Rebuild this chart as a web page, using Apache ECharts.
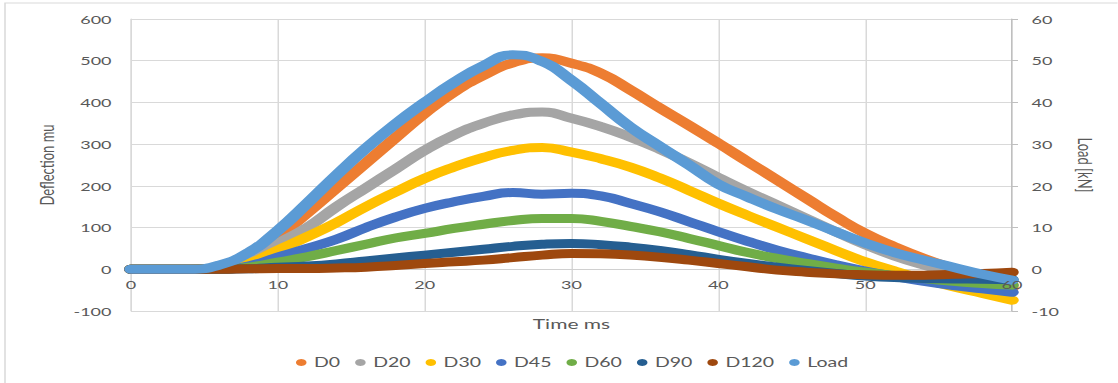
<!DOCTYPE html>
<html>
<head>
<meta charset="utf-8">
<script src="https://cdn.jsdelivr.net/npm/echarts@6.0.0/dist/echarts.min.js"></script>
<style>
html,body{margin:0;padding:0;background:#fff;overflow:hidden;width:1118px;height:383px;}
#wrap{position:absolute;left:0;top:0;height:383px;transform-origin:0 0;}
</style>
</head>
<body>
<div id="wrap"></div>
<script>
// ---- data (time in ms, deflection in mu, load in kN) ----
const times = [0,2,4,6,8,10,12,14,16,18,20,22,24,26,28,30,32,34,36,38,40,42,44,46,48,50,52,54,56,58,60];
const d0   = [0,0,0,3,25,77,135,195,255,315,374,425,465,495,507,494,470,430,387,345,302,258,214,170,126,86,54,26,2,-22,-45];
const d20  = [0,0,0,2,20,62,100,150,195,240,285,322,350,370,377,362,342,317,288,255,220,186,154,122,90,59,32,10,-8,-24,-38];
const d30  = [0,0,0,1,14,46,78,112,150,185,218,245,268,285,292,281,265,245,219,189,158,129,101,73,45,18,-4,-24,-42,-58,-74];
const d45  = [0,0,0,0,8,29,50,72,100,125,146,162,175,184,180,182,176,158,138,114,90,67,46,28,11,-4,-17,-29,-39,-47,-55];
const d60  = [0,0,0,0,5,17,30,45,60,75,86,98,108,117,122,122,115,103,90,74,57,40,26,14,3,-7,-15,-22,-29,-34,-38];
const d90  = [0,0,0,0,1,5,8,13,20,27,34,41,48,55,60,62,59,53,45,35,24,14,5,-3,-10,-16,-20,-22,-23,-24,-25];
const d120 = [0,0,0,0,1,2,2,3,5,9,14,18,22,28,34,38,37,34,29,22,14,6,-2,-7,-11,-13,-14,-14,-12,-10,-7];
const load = [0,0,0,1.0,4.0,9.3,15.8,22.6,29.0,34.8,40.0,44.8,48.8,51.4,49.8,45.3,39.7,34.1,29.5,25,20.4,17.3,14.4,11.8,9,6.3,4,2.2,0.5,-1.2,-2.6];

const seriesNames = ['D0','D20','D30','D45','D60','D90','D120','Load'];
const seriesData  = [d0,d20,d30,d45,d60,d90,d120,load];
const seriesColors = ['#ED7D31','#A5A5A5','#FFC000','#4472C4','#70AD47','#255E91','#9E480E','#5B9BD5'];
const seriesAxis  = [0,0,0,0,0,0,0,1];

// ---- layout: reference is horizontally stretched ----
const S = 1.5;
const W = 1118 / S;
const el = document.getElementById('wrap');
el.style.width = W + 'px';
el.style.transform = 'scaleX(' + S + ')';

const chart = echarts.init(el, null, {renderer: 'svg', width: W, height: 383});
const txt = '#595959';
const font = 'Lato';
const gridTop = 19, gridBottom = 72;
const plotH = 383 - gridTop - gridBottom;
const zeroOffset = -plotH * (0 - (-100)) / (600 - (-100)); // move x axis up to the zero line

const series = seriesNames.map((n, k) => ({
  name: n,
  type: 'line',
  xAxisIndex: 0,
  yAxisIndex: seriesAxis[k],
  data: times.map((t, i) => [t, seriesData[k][i]]),
  smooth: 0.5,
  symbol: 'none',
  showSymbol: false,
  itemStyle: {color: seriesColors[k]},
  lineStyle: {width: 9, color: seriesColors[k], cap: 'round', join: 'round'},
  emphasis: {disabled: true},
  z: 2
}));

chart.setOption({
  animation: false,
  backgroundColor: '#fff',
  textStyle: {fontFamily: font},
  grid: {left: 131 / S, right: (1118 - 1012) / S, top: gridTop, bottom: gridBottom, outerBoundsMode: 'none', containLabel: false},
  graphic: [{
    type: 'rect', silent: true, z: -10,
    shape: {x: 5 / S, y: 3, width: 900, height: 500},
    style: {fill: 'none', stroke: '#d9d9d9', lineWidth: 1}
  }],
  legend: {
    data: seriesNames,
    left: 296 / S,
    top: 356,
    icon: 'circle',
    itemWidth: 7,
    itemHeight: 7,
    itemGap: 10,
    padding: 0,
    textStyle: {color: txt, fontSize: 13, fontFamily: font}
  },
  xAxis: [{
    type: 'value', min: 0, max: 60, interval: 10, position: 'bottom', offset: zeroOffset,
    name: 'Time ms', nameLocation: 'middle', nameGap: 47,
    nameTextStyle: {color: txt, fontSize: 14, fontFamily: font},
    axisLine: {show: true, onZero: false, lineStyle: {color: '#d0d0d0', width: 1}},
    axisTick: {show: false},
    axisLabel: {show: false},
    splitLine: {show: true, lineStyle: {color: '#d9d9d9', width: 1}},
    z: 0
  }, {
    type: 'value', min: 0, max: 60, interval: 10, position: 'bottom', offset: zeroOffset,
    axisLine: {show: false, onZero: false},
    axisTick: {show: false},
    axisLabel: {show: true, color: txt, fontSize: 12, fontFamily: font, margin: 9},
    splitLine: {show: false},
    z: 5
  }],
  yAxis: [{
    type: 'value', min: -100, max: 600, interval: 100, position: 'left',
    name: 'Deflection mu', nameLocation: 'middle', nameRotate: 90, nameGap: 45,
    nameTextStyle: {color: txt, fontSize: 13, fontFamily: font},
    axisLine: {show: true, onZero: false, lineStyle: {color: '#d9d9d9'}},
    axisTick: {show: false},
    axisLabel: {color: txt, fontSize: 12, fontFamily: font, margin: 13},
    splitLine: {show: true, lineStyle: {color: '#d9d9d9', width: 1}}
  }, {
    type: 'value', min: -10, max: 60, interval: 10, position: 'right',
    name: 'Load [kN]', nameLocation: 'middle', nameRotate: -90, nameGap: 42,
    nameTextStyle: {color: txt, fontSize: 13, fontFamily: font},
    axisLine: {show: true, onZero: false, lineStyle: {color: '#bfbfbf'}},
    axisTick: {show: true, inside: false, length: 4, lineStyle: {color: '#bfbfbf'}},
    axisLabel: {color: txt, fontSize: 12, fontFamily: font, margin: 13},
    splitLine: {show: false}
  }],
  series: series
});
</script>
</body>
</html>
